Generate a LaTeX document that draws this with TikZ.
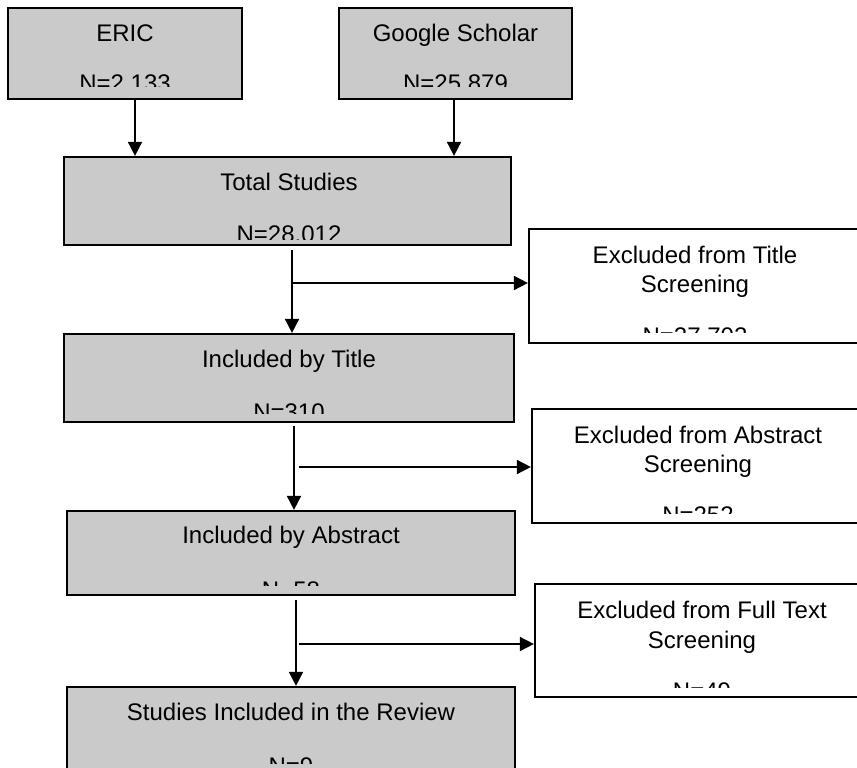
\documentclass[tikz,border=0pt]{standalone}
\usepackage{fontspec}
\setmainfont{Liberation Sans}
\usetikzlibrary{arrows.meta}
\definecolor{boxgray}{RGB}{202,202,202}
\tikzset{
  x=1pt, y=-1pt,
  box/.style={draw=black, line width=2.2pt, inner sep=0pt, rectangle},
  graybox/.style={box, fill=boxgray},
  whitebox/.style={box, fill=white},
  txt/.style={inner sep=0pt, anchor=base, font=\fontsize{24}{28}\selectfont},
  arr/.style={line width=1.7pt, -{Triangle[length=14pt,width=14pt]}},
  seg/.style={line width=1.7pt}
}
\begin{document}
\begin{tikzpicture}
\clip (0,0) rectangle (857,768);
\fill[white] (0,0) rectangle (857,768);

% boxes
\node[graybox, minimum width=234, minimum height=91] (eric) at (125,53.5) {};
\node[graybox, minimum width=233, minimum height=91] (google) at (455.5,53.5) {};
\node[graybox, minimum width=447, minimum height=88] (total) at (287.5,201) {};
\node[whitebox, minimum width=333, minimum height=114] (exT) at (695.5,286) {};
\node[graybox, minimum width=450, minimum height=88] (inT) at (289,378) {};
\node[whitebox, minimum width=332, minimum height=114] (exA) at (698,466) {};
\node[graybox, minimum width=448, minimum height=84] (inA) at (291,553) {};
\node[whitebox, minimum width=334, minimum height=113] (exF) at (702,640.5) {};
\node[graybox, minimum width=448, minimum height=108] (final) at (291,741) {};

% titles
\node[txt] (ericT) at (125,42) {ERIC};
\node[txt] (googleT) at (455.5,42) {Google Scholar};
\node[txt] (totalT) at (289,190) {Total Studies};
\node[txt] (exT1) at (695,263) {Excluded from Title};
\node[txt] (exT2) at (695,292) {Screening};
\node[txt] (inTT) at (289,367) {Included by Title};
\node[txt] (exA1) at (698,443) {Excluded from Abstract};
\node[txt] (exA2) at (698,472) {Screening};
\node[txt] (inAT) at (291,543) {Included by Abstract};
\node[txt] (exF1) at (702,618) {Excluded from Full Text};
\node[txt] (exF2) at (702,648) {Screening};
\node[txt] (finalT) at (291,720) {Studies Included in the Review};

% clipped counts
\begin{scope}\clip (10,60) rectangle (240,87);
\node[txt] (ericN) at (125,92) {N=2,133};\end{scope}
\begin{scope}\clip (341,60) rectangle (570,87);
\node[txt] (googleN) at (455.5,92) {N=25,879};\end{scope}
\begin{scope}\clip (66,210) rectangle (509,239);
\node[txt] (totalN) at (289,242) {N=28,012};\end{scope}
\begin{scope}\clip (531,300) rectangle (857,332);
\node[txt] (exTN) at (695,344) {N=27,702};\end{scope}
\begin{scope}\clip (66,385) rectangle (512,413);
\node[txt] (inTN) at (289,420) {N=310};\end{scope}
\begin{scope}\clip (534,480) rectangle (857,513);
\node[txt] (exAN) at (698,523) {N=252};\end{scope}
\begin{scope}\clip (69,560) rectangle (513,585);
\node[txt] (inAN) at (291,598) {N=58};\end{scope}
\begin{scope}\clip (537,655) rectangle (857,687);
\node[txt] (exFN) at (702,699) {N=49};\end{scope}
\begin{scope}\clip (69,730) rectangle (513,763);
\node[txt] (finalN) at (291,774) {N=9};\end{scope}

% connectors
\draw[arr] ([xshift=10pt]eric.south) -- ([xshift=10pt]eric.south |- total.north);
\draw[arr] ([xshift=-1.5pt]google.south) -- ([xshift=-1.5pt]google.south |- total.north);

\coordinate (a1) at (292,250);
\coordinate (j1) at (292,283);
\draw[arr] (a1) -- (a1 |- inT.north);
\draw[arr] (j1) -- (j1 -| exT.west);

\coordinate (a2) at (294,426);
\coordinate (j2) at (299,467);
\draw[arr] (a2) -- (a2 |- inA.north);
\draw[arr] (j2) -- (j2 -| exA.west);

\coordinate (a3) at (296,600);
\coordinate (j3) at (299,644);
\draw[arr] (a3) -- (a3 |- final.north);
\draw[arr] (j3) -- (j3 -| exF.west);
\end{tikzpicture}
\end{document}
